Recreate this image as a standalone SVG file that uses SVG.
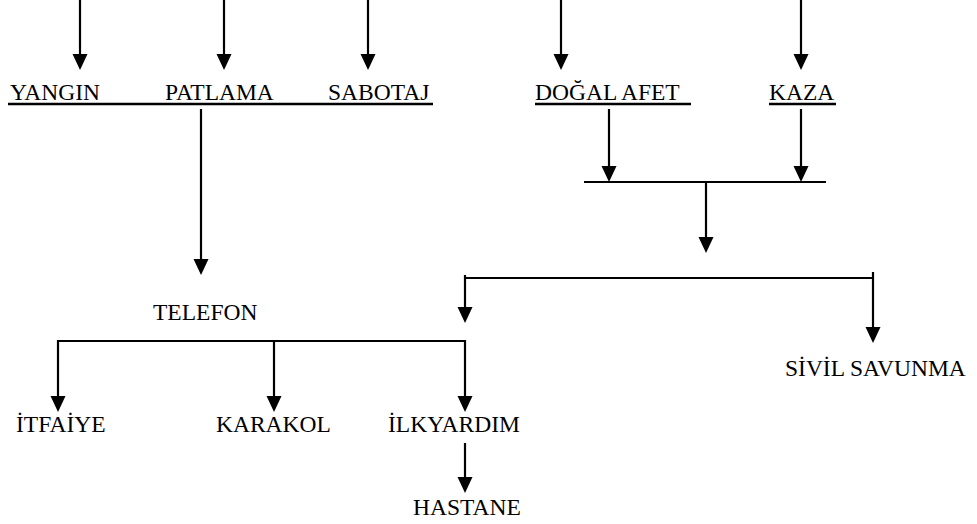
<svg xmlns="http://www.w3.org/2000/svg" width="977" height="524" viewBox="0 0 977 524">
<style>
.t{font-family:"Liberation Serif","Times New Roman",serif;font-size:23.5px;fill:#000}
.ln{stroke:#000;stroke-width:2.2;fill:none}
.ul{stroke:#000;stroke-width:2.5;fill:none}
</style>
<defs>
<marker id="ah" markerUnits="userSpaceOnUse" viewBox="0 0 16 16" markerWidth="16" markerHeight="16" refX="11" refY="8" orient="auto">
<path d="M0,0.5 L16,8 L0,15.5 Z" fill="#000"/>
</marker>
</defs>
<rect width="977" height="524" fill="#fff"/>
<g id="connectors">
<line class="ln" x1="80" y1="0" x2="80" y2="65" marker-end="url(#ah)"/>
<line class="ln" x1="224" y1="0" x2="224" y2="65" marker-end="url(#ah)"/>
<line class="ln" x1="368" y1="0" x2="368" y2="65" marker-end="url(#ah)"/>
<line class="ln" x1="561" y1="0" x2="561" y2="65" marker-end="url(#ah)"/>
<line class="ln" x1="801" y1="0" x2="801" y2="65" marker-end="url(#ah)"/>
<line class="ln" x1="201" y1="109" x2="201" y2="270" marker-end="url(#ah)"/>
<line class="ln" x1="609" y1="109" x2="609" y2="177" marker-end="url(#ah)"/>
<line class="ln" x1="801" y1="109" x2="801" y2="177" marker-end="url(#ah)"/>
<line class="ln" x1="584" y1="182" x2="826" y2="182"/>
<line class="ln" x1="706" y1="182" x2="706" y2="248" marker-end="url(#ah)"/>
<line class="ln" x1="465" y1="278" x2="873" y2="278"/>
<line class="ln" x1="465" y1="275" x2="465" y2="318" marker-end="url(#ah)"/>
<line class="ln" x1="873" y1="272" x2="873" y2="338" marker-end="url(#ah)"/>
<line class="ln" x1="58" y1="341" x2="465" y2="341"/>
<line class="ln" x1="58" y1="340" x2="58" y2="407" marker-end="url(#ah)"/>
<line class="ln" x1="274" y1="341" x2="274" y2="407" marker-end="url(#ah)"/>
<line class="ln" x1="465" y1="340" x2="465" y2="407" marker-end="url(#ah)"/>
<line class="ln" x1="465" y1="443" x2="465" y2="488" marker-end="url(#ah)"/>
</g>
<g id="n-yangin"><text class="t" x="10" y="100">YANGIN</text></g>
<g id="n-patlama"><text class="t" x="165" y="100">PATLAMA</text></g>
<g id="n-sabotaj"><text class="t" x="328" y="100">SABOTAJ</text></g>
<g id="n-underline1"><line class="ul" x1="8" y1="104" x2="433" y2="104"/></g>
<g id="n-dogal"><text class="t" x="535" y="100">DOĞAL AFET</text><line class="ul" x1="535" y1="104" x2="691" y2="104"/></g>
<g id="n-kaza"><text class="t" x="769" y="100">KAZA</text><line class="ul" x1="769" y1="104" x2="836" y2="104"/></g>
<g id="n-telefon"><text class="t" x="153" y="320">TELEFON</text></g>
<g id="n-sivil"><text class="t" x="785" y="376">SİVİL SAVUNMA</text></g>
<g id="n-itfaiye"><text class="t" x="16" y="432">İTFAİYE</text></g>
<g id="n-karakol"><text class="t" x="216" y="432">KARAKOL</text></g>
<g id="n-ilkyardim"><text class="t" x="388" y="432">İLKYARDIM</text></g>
<g id="n-hastane"><text class="t" x="413" y="515">HASTANE</text></g>
</svg>
